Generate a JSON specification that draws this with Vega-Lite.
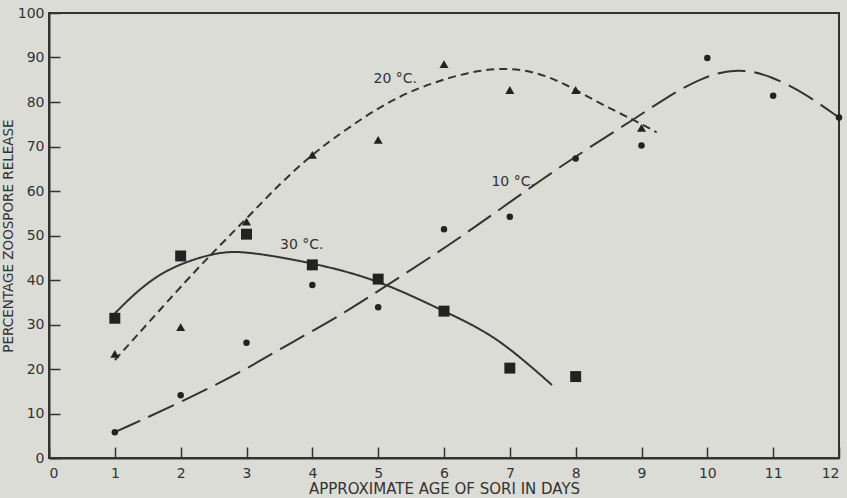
{
  "$schema": "https://vega.github.io/schema/vega-lite/v6.json",
  "width": 790,
  "height": 445,
  "autosize": {"type": "none"},
  "padding": {"left": 49, "top": 13, "right": 8, "bottom": 40},
  "background": "#dcdcd7",
  "datasets": {
    "points": [
      {"day": 1, "pct": 5.8, "temp": "10"}, {"day": 2, "pct": 14.1, "temp": "10"}, {"day": 3, "pct": 25.9, "temp": "10"},
      {"day": 4, "pct": 38.9, "temp": "10"}, {"day": 5, "pct": 33.9, "temp": "10"}, {"day": 6, "pct": 51.4, "temp": "10"},
      {"day": 7, "pct": 54.2, "temp": "10"}, {"day": 8, "pct": 67.3, "temp": "10"}, {"day": 9, "pct": 70.2, "temp": "10"},
      {"day": 10, "pct": 89.9, "temp": "10"}, {"day": 11, "pct": 81.4, "temp": "10"}, {"day": 12, "pct": 76.5, "temp": "10"},
      {"day": 1, "pct": 23.4, "temp": "20"}, {"day": 2, "pct": 29.4, "temp": "20"}, {"day": 3, "pct": 53.1, "temp": "20"},
      {"day": 4, "pct": 68.1, "temp": "20"}, {"day": 5, "pct": 71.5, "temp": "20"}, {"day": 6, "pct": 88.5, "temp": "20"},
      {"day": 7, "pct": 82.7, "temp": "20"}, {"day": 8, "pct": 82.7, "temp": "20"}, {"day": 9, "pct": 74.2, "temp": "20"},
      {"day": 1, "pct": 31.4, "temp": "30"}, {"day": 2, "pct": 45.4, "temp": "30"}, {"day": 3, "pct": 50.3, "temp": "30"},
      {"day": 4, "pct": 43.4, "temp": "30"}, {"day": 5, "pct": 40.2, "temp": "30"}, {"day": 6, "pct": 33.0, "temp": "30"},
      {"day": 7, "pct": 20.2, "temp": "30"}, {"day": 8, "pct": 18.3, "temp": "30"}
    ],
    "curves": [
      {"day": 1, "pct": 5.8, "temp": "10"}, {"day": 2.19, "pct": 13.8, "temp": "10"}, {"day": 3, "pct": 20, "temp": "10"},
      {"day": 3.66, "pct": 25.8, "temp": "10"}, {"day": 4.37, "pct": 31.5, "temp": "10"}, {"day": 5.08, "pct": 38.3, "temp": "10"},
      {"day": 5.89, "pct": 46, "temp": "10"}, {"day": 6.55, "pct": 52.7, "temp": "10"}, {"day": 7.86, "pct": 66.6, "temp": "10"},
      {"day": 8.94, "pct": 76.6, "temp": "10"}, {"day": 9.31, "pct": 80.4, "temp": "10"}, {"day": 9.94, "pct": 85.8, "temp": "10"},
      {"day": 10.47, "pct": 87.6, "temp": "10"}, {"day": 10.95, "pct": 86.0, "temp": "10"}, {"day": 11.51, "pct": 81.7, "temp": "10"},
      {"day": 12, "pct": 76.5, "temp": "10"},
      {"day": 1, "pct": 22, "temp": "20"}, {"day": 2, "pct": 38.5, "temp": "20"}, {"day": 2.45, "pct": 45.6, "temp": "20"},
      {"day": 3, "pct": 53.8, "temp": "20"}, {"day": 3.51, "pct": 61.7, "temp": "20"}, {"day": 3.99, "pct": 68.1, "temp": "20"},
      {"day": 4.32, "pct": 71.8, "temp": "20"}, {"day": 4.83, "pct": 77.1, "temp": "20"}, {"day": 5.33, "pct": 81.4, "temp": "20"},
      {"day": 5.84, "pct": 84.4, "temp": "20"}, {"day": 6.35, "pct": 86.6, "temp": "20"}, {"day": 6.85, "pct": 87.7, "temp": "20"},
      {"day": 7.36, "pct": 87.0, "temp": "20"}, {"day": 7.86, "pct": 84.0, "temp": "20"}, {"day": 8.37, "pct": 79.6, "temp": "20"},
      {"day": 8.88, "pct": 76.0, "temp": "20"}, {"day": 9.23, "pct": 73.2, "temp": "20"},
      {"day": 1, "pct": 32.5, "temp": "30"}, {"day": 1.64, "pct": 41.9, "temp": "30"}, {"day": 2.5, "pct": 46.2, "temp": "30"},
      {"day": 2.95, "pct": 46.6, "temp": "30"}, {"day": 3.99, "pct": 43.9, "temp": "30"}, {"day": 4.98, "pct": 40.2, "temp": "30"},
      {"day": 6, "pct": 33, "temp": "30"}, {"day": 6.65, "pct": 28.4, "temp": "30"}, {"day": 7.15, "pct": 22.8, "temp": "30"},
      {"day": 7.64, "pct": 16.4, "temp": "30"}
    ],
    "labels": [
      {"day": 7.05, "pct": 62.0, "text": "10 °C."},
      {"day": 5.26, "pct": 85.1, "text": "20 °C."},
      {"day": 3.84, "pct": 47.9, "text": "30 °C."}
    ]
  },
  "layer": [
    {
      "data": {"name": "curves"},
      "mark": {"type": "line", "interpolate": "basis", "strokeWidth": 2, "color": "#333333"},
      "encoding": {
        "x": {"field": "day", "type": "quantitative"},
        "y": {"field": "pct", "type": "quantitative"},
        "detail": {"field": "temp"},
        "strokeDash": {"field": "temp", "type": "nominal", "scale": {"domain": ["10", "20", "30"], "range": [[28, 9], [8, 5], [1, 0]]}, "legend": null}
      }
    },
    {
      "data": {"name": "points"},
      "mark": {"type": "point", "filled": true, "opacity": 1, "color": "#222222"},
      "encoding": {
        "x": {"field": "day", "type": "quantitative"},
        "y": {"field": "pct", "type": "quantitative"},
        "shape": {"field": "temp", "type": "nominal", "scale": {"domain": ["10", "20", "30"], "range": ["circle", "triangle-up", "square"]}, "legend": null},
        "size": {"field": "temp", "type": "nominal", "scale": {"domain": ["10", "20", "30"], "range": [42, 120, 64]}, "legend": null}
      }
    },
    {
      "data": {"name": "labels"},
      "mark": {"type": "text", "font": "DejaVu Sans", "fontSize": 14, "color": "#333333", "align": "center", "baseline": "middle"},
      "encoding": {
        "x": {"field": "day", "type": "quantitative"},
        "y": {"field": "pct", "type": "quantitative"},
        "text": {"field": "text"}
      }
    }
  ],
  "encoding": {
    "x": {"field": "day", "type": "quantitative", "scale": {"domain": [0, 12], "nice": false, "zero": false},
      "axis": {"values": [0, 1, 2, 3, 4, 5, 6, 7, 8, 9, 10, 11, 12], "format": "d", "title": "APPROXIMATE AGE OF SORI IN DAYS"}},
    "y": {"field": "pct", "type": "quantitative", "scale": {"domain": [0, 100], "nice": false},
      "axis": {"values": [0, 10, 20, 30, 40, 50, 60, 70, 80, 90, 100], "format": "d", "title": "PERCENTAGE ZOOSPORE RELEASE"}}
  },
  "config": {
    "view": {"stroke": "#333333", "strokeWidth": 2},
    "axis": {
      "grid": false,
      "domainColor": "#333333",
      "domainWidth": 2,
      "tickColor": "#333333",
      "tickWidth": 1.5,
      "tickSize": -11,
      "labelFont": "DejaVu Sans",
      "labelFontSize": 14,
      "labelColor": "#333333",
      "titleFont": "DejaVu Sans",
      "titleFontSize": 15,
      "titleFontWeight": "normal",
      "titleColor": "#333333"
    },
    "axisX": {"labelPadding": 19, "titlePadding": 1},
    "axisY": {"labelPadding": 16, "titlePadding": 2, "titleFontSize": 13.5}
  }
}
